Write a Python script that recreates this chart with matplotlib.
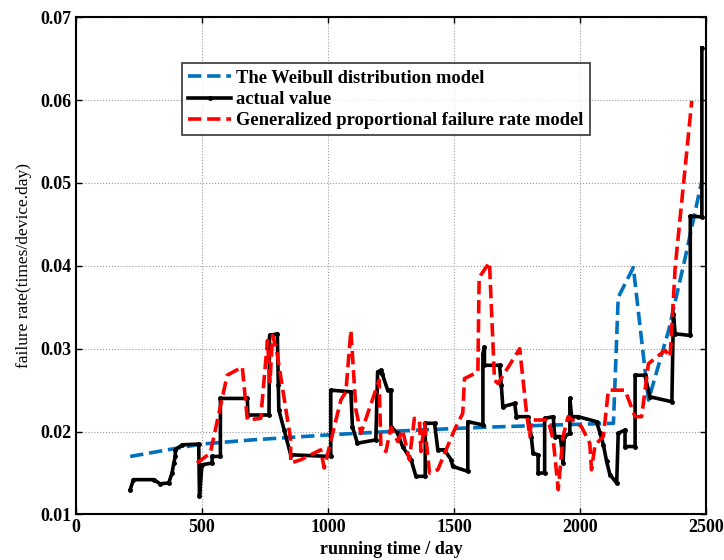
import numpy as np
import matplotlib.pyplot as plt

# actual value (black, stepwise)
actual_x = [215, 228, 308, 334, 368, 381, 388, 394, 394, 421, 487, 490, 500, 540, 540, 573, 573, 680, 682, 766,
            768, 799, 803, 805, 826, 852, 1011, 1011, 1091, 1097, 1117, 1190, 1197, 1210, 1215, 1237, 1250, 1250,
            1276, 1296, 1330, 1349, 1386, 1386, 1423, 1436, 1462, 1489, 1495, 1555, 1555, 1615, 1615, 1621, 1621,
            1681, 1688, 1694, 1741, 1748, 1794, 1807, 1814, 1834, 1834, 1860, 1860, 1894, 1900, 1922, 1927, 1933,
            1938, 1960, 1960, 1967, 1993, 2066, 2080, 2093, 2106, 2119, 2146, 2152, 2179, 2179, 2219, 2219, 2258,
            2278, 2365, 2371, 2378, 2438, 2438, 2484, 2484]
actual_y = [0.0130, 0.0142, 0.0142, 0.0137, 0.0138, 0.0150, 0.0162, 0.0170, 0.0178, 0.0184, 0.0185, 0.0122,
            0.0160, 0.0162, 0.0170, 0.0170, 0.0240, 0.0240, 0.0220, 0.0220, 0.0316, 0.0318, 0.0256, 0.0226,
            0.0202, 0.0172, 0.0170, 0.0250, 0.0248, 0.0206, 0.0186, 0.0190, 0.0272, 0.0274, 0.0270, 0.0250,
            0.0250, 0.0206, 0.0198, 0.0182, 0.0166, 0.0146, 0.0146, 0.0210, 0.0210, 0.0178, 0.0178, 0.0166,
            0.0158, 0.0152, 0.0212, 0.0208, 0.0294, 0.0302, 0.0280, 0.0280, 0.0256, 0.0230, 0.0234, 0.0218,
            0.0218, 0.0194, 0.0174, 0.0172, 0.0150, 0.0150, 0.0216, 0.0218, 0.0194, 0.0194, 0.0182, 0.0162,
            0.0194, 0.0198, 0.0240, 0.0218, 0.0218, 0.0212, 0.0198, 0.0184, 0.0164, 0.0148, 0.0138, 0.0198,
            0.0202, 0.0182, 0.0182, 0.0268, 0.0268, 0.0242, 0.0236, 0.0342, 0.0318, 0.0316, 0.0460, 0.0459,
            0.0663]

# generalized proportional failure rate model (red)
gpfr_x = [480, 533, 600, 660, 680, 733, 760, 770, 780, 795, 852, 852, 892, 971, 985, 1051, 1071, 1091, 1111,
          1131, 1203, 1210, 1230, 1250, 1277, 1296, 1323, 1343, 1363, 1369, 1383, 1403, 1436, 1502, 1535, 1542,
          1595, 1600, 1641, 1661, 1675, 1761, 1787, 1801, 1807, 1874, 1894, 1914, 1933, 1953, 2006, 2039, 2046,
          2060, 2093, 2113, 2179, 2219, 2245, 2272, 2338, 2358, 2378, 2444]
gpfr_y = [0.0162, 0.0174, 0.0268, 0.0278, 0.0214, 0.0216, 0.0310, 0.0260, 0.0316, 0.0300, 0.0190, 0.0162,
          0.0166, 0.0178, 0.0156, 0.0238, 0.0248, 0.0322, 0.0226, 0.0198, 0.0262, 0.0182, 0.0176, 0.0205,
          0.0188, 0.0202, 0.0166, 0.0216, 0.0214, 0.0176, 0.0210, 0.0150, 0.0154, 0.0202, 0.0222, 0.0264,
          0.0272, 0.0386, 0.0404, 0.0262, 0.0258, 0.0300, 0.0226, 0.0194, 0.0214, 0.0214, 0.0190, 0.0130,
          0.0194, 0.0218, 0.0206, 0.0186, 0.0154, 0.0184, 0.0194, 0.0250, 0.0250, 0.0218, 0.0218, 0.0282,
          0.0298, 0.0290, 0.0398, 0.0599]

# Weibull distribution model (blue)
weibull_x = [215, 400, 500, 700, 1000, 1300, 1600, 1900, 2133, 2152, 2212, 2272, 2352, 2418, 2484]
weibull_y = [0.0170, 0.0180, 0.0185, 0.0190, 0.0196, 0.0201, 0.0205, 0.0208, 0.0210, 0.0362, 0.0398, 0.0238,
             0.0322, 0.0410, 0.0503]

plt.rcParams['font.family'] = ['Liberation Serif', 'DejaVu Serif']

fig = plt.figure(figsize=(7.24, 5.6), dpi=100)
ax = fig.add_axes([0.105, 0.0813, 0.870, 0.888])

ax.plot(weibull_x, weibull_y, '--', color='#0072BD', lw=2.6, label='The Weibull distribution model')
ax.plot(actual_x, actual_y, '-', color='black', lw=2.6, marker='.', markersize=5,
        label='actual value')
ax.plot(gpfr_x, gpfr_y, '--', color='red', lw=2.6, label='Generalized proportional failure rate model')

ax.set_xlim(0, 2500)
ax.set_ylim(0.01, 0.07)
ax.set_xticks([0, 500, 1000, 1500, 2000, 2500])
ax.set_yticks([0.01, 0.02, 0.03, 0.04, 0.05, 0.06, 0.07])
ax.set_yticklabels(['0.01', '0.02', '0.03', '0.04', '0.05', '0.06', '0.07'])
ax.tick_params(direction='in', top=True, right=True, labelsize=13, length=4, width=1, pad=3)
for lbl in ax.get_xticklabels() + ax.get_yticklabels():
    lbl.set_fontweight('bold')
ax.grid(True, color='#999999', linestyle=':', linewidth=0.8)
for s in ax.spines.values():
    s.set_linewidth(1.5)

ax.set_xlabel('running time / day', fontsize=13, fontweight='bold', labelpad=4)
ax.set_ylabel('failure rate(times/device.day)', fontsize=12.5, labelpad=6)

leg = ax.legend(loc='upper left', bbox_to_anchor=(0.168, 0.907), fontsize=13.3, frameon=True,
                fancybox=False, edgecolor='black', handlelength=2.3, handletextpad=0.3,
                borderpad=0.35, labelspacing=0.22, borderaxespad=0)
leg.get_frame().set_linewidth(1.2)
for t in leg.get_texts():
    t.set_fontweight('bold')

plt.savefig('out.png', dpi=100)
